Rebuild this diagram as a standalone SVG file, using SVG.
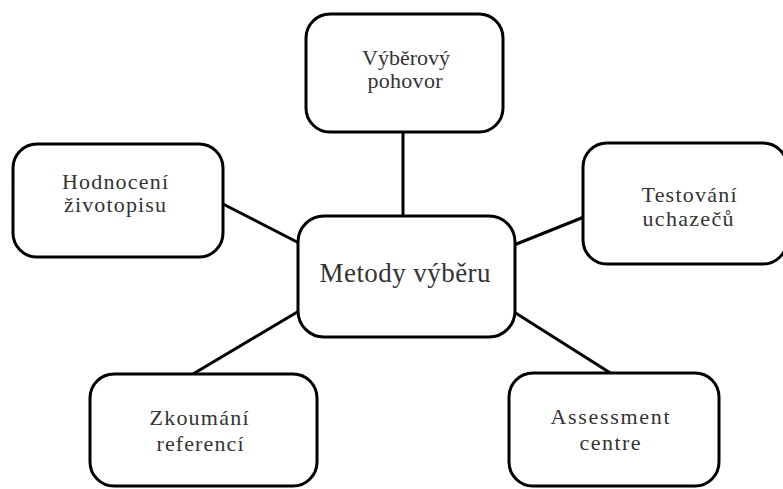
<svg xmlns="http://www.w3.org/2000/svg" width="783" height="489" viewBox="0 0 783 489">
  <style>
    .box { fill: #ffffff; stroke: #000000; stroke-width: 3; }
    .link { stroke: #000000; stroke-width: 3; fill: none; }
    text { font-family: 'Liberation Serif', 'DejaVu Serif', serif; fill: #333333; text-anchor: middle; }
    .lbl { font-size: 22px; }
    .main { font-size: 27px; }
  </style>
  <rect width="783" height="489" fill="#ffffff"/>

  <g id="connectors">
    <line class="link" x1="403" y1="132" x2="403" y2="217"/>
    <line class="link" x1="223" y1="204" x2="299" y2="243"/>
    <line class="link" x1="514" y1="245" x2="584" y2="217"/>
    <line class="link" x1="299" y1="311" x2="193" y2="374"/>
    <line class="link" x1="514" y1="312" x2="612" y2="374"/>
  </g>

  <g id="node-metody">
    <rect class="box" x="298" y="216" width="217" height="121" rx="26" ry="26"/>
    <text class="main" x="405" y="282" textLength="171" lengthAdjust="spacing">Metody výběru</text>
  </g>

  <g id="node-pohovor">
    <rect class="box" x="306" y="14" width="197" height="118" rx="24" ry="24"/>
    <text class="lbl" x="406" y="65" textLength="88" lengthAdjust="spacing">Výběrový</text>
    <text class="lbl" x="405" y="88" textLength="75" lengthAdjust="spacing">pohovor</text>
  </g>

  <g id="node-zivotopis">
    <rect class="box" x="13" y="144" width="210" height="113" rx="24" ry="24"/>
    <text class="lbl" x="115" y="189" textLength="106" lengthAdjust="spacing">Hodnocení</text>
    <text class="lbl" x="115" y="212" textLength="102" lengthAdjust="spacing">životopisu</text>
  </g>

  <g id="node-testovani">
    <rect class="box" x="583" y="143" width="204" height="121" rx="24" ry="24"/>
    <text class="lbl" x="689" y="202" textLength="95" lengthAdjust="spacing">Testování</text>
    <text class="lbl" x="688" y="226" textLength="91" lengthAdjust="spacing">uchazečů</text>
  </g>

  <g id="node-reference">
    <rect class="box" x="90" y="374" width="227" height="112" rx="24" ry="24"/>
    <text class="lbl" x="199" y="425" textLength="99" lengthAdjust="spacing">Zkoumání</text>
    <text class="lbl" x="200" y="451" textLength="87" lengthAdjust="spacing">referencí</text>
  </g>

  <g id="node-assessment">
    <rect class="box" x="509" y="373" width="210" height="113" rx="24" ry="24"/>
    <text class="lbl" x="610" y="424" textLength="119" lengthAdjust="spacing">Assessment</text>
    <text class="lbl" x="610" y="450" textLength="61" lengthAdjust="spacing">centre</text>
  </g>
</svg>
